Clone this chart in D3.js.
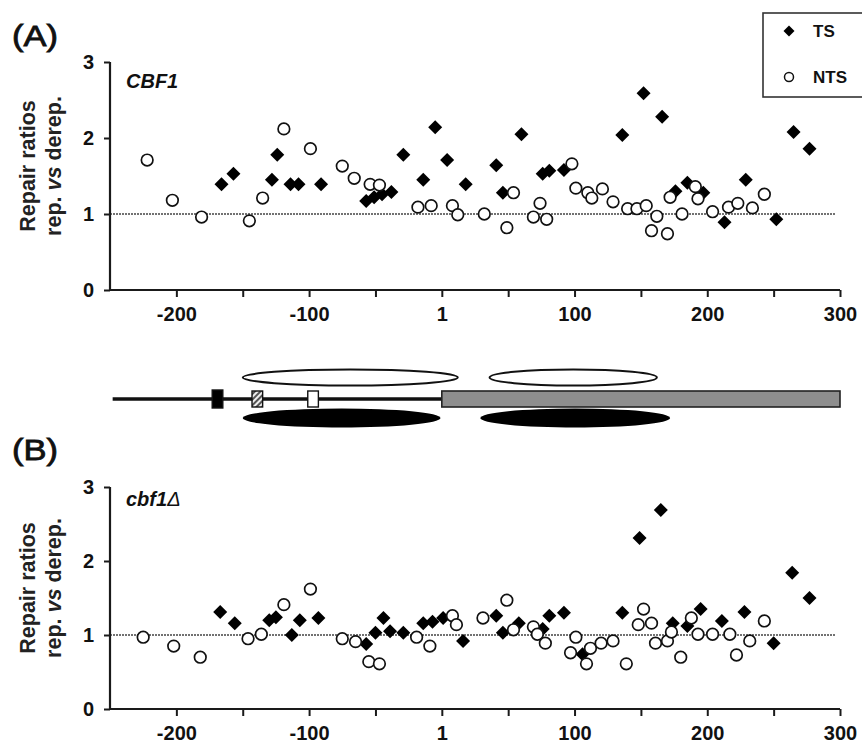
<!DOCTYPE html>
<html>
<head>
<meta charset="utf-8">
<script src="https://cdn.jsdelivr.net/npm/d3@7/dist/d3.min.js"></script>
<style>
  html, body { margin: 0; padding: 0; background: #fff; }
  svg { display: block; }
  text { font-family: Arial, 'Liberation Sans', sans-serif; }
</style>
</head>
<body>
<svg id="chart" width="862" height="746"></svg>
<script>
// gene position (bp) vs repair ratio
const tsA = [[-166,1.39],[-157,1.53],[-128,1.45],[-124,1.78],[-114,1.39],[-108,1.39],[-91,1.39],[-57,1.17],[-51,1.22],[-45,1.26],[-38,1.29],[-29,1.78],[-14,1.45],[-5,2.14],[4,1.71],[18,1.39],[41,1.64],[46,1.28],[60,2.05],[76,1.53],[81,1.57],[92,1.58],[136,2.04],[152,2.59],[166,2.28],[176,1.30],[185,1.41],[197,1.28],[213,0.89],[229,1.45],[252,0.93],[265,2.08],[277,1.86]]
const ntsA = [[-222,1.71],[-203,1.18],[-181,0.96],[-145,0.91],[-135,1.21],[-119,2.12],[-99,1.86],[-75,1.63],[-66,1.47],[-54,1.39],[-47,1.38],[-18,1.09],[-8,1.11],[8,1.11],[12,0.99],[32,1.00],[49,0.82],[54,1.28],[69,0.96],[74,1.14],[79,0.93],[98,1.66],[101,1.34],[110,1.28],[113,1.21],[121,1.33],[129,1.16],[140,1.07],[147,1.07],[154,1.11],[162,0.97],[158,0.78],[170,0.74],[172,1.22],[181,1.00],[191,1.36],[193,1.20],[204,1.03],[216,1.09],[223,1.14],[234,1.08],[243,1.26]]
const tsB = [[-167,1.31],[-156,1.16],[-130,1.20],[-125,1.24],[-113,1.00],[-107,1.20],[-93,1.23],[-57,0.88],[-50,1.03],[-44,1.23],[-39,1.05],[-29,1.03],[-14,1.16],[-7,1.18],[1,1.23],[16,0.92],[41,1.26],[46,1.03],[58,1.16],[76,1.08],[81,1.26],[92,1.30],[106,0.74],[136,1.30],[149,2.31],[165,2.69],[174,1.16],[185,1.12],[195,1.35],[211,1.19],[228,1.31],[250,0.89],[264,1.84],[277,1.50]]
const ntsB = [[-225,0.97],[-202,0.85],[-182,0.70],[-146,0.95],[-136,1.01],[-119,1.41],[-99,1.62],[-75,0.95],[-65,0.91],[-55,0.64],[-47,0.61],[-19,0.97],[-9,0.85],[8,1.26],[11,1.14],[31,1.23],[49,1.47],[54,1.07],[69,1.11],[72,1.01],[78,0.89],[101,0.97],[97,0.76],[109,0.61],[112,0.82],[120,0.89],[129,0.92],[139,0.61],[148,1.14],[152,1.35],[158,1.16],[161,0.89],[170,0.92],[173,1.04],[180,0.70],[188,1.23],[193,1.01],[204,1.01],[217,1.01],[222,0.73],[232,0.92],[243,1.19]]

const xTicks = [-200, -150, -100, -50, 0, 50, 100, 150, 200, 250, 300]
const xTickLabels = { '-200': '-200', '-100': '-100', '0': '1', '100': '100', '200': '200', '300': '300' }
const yTicks = [0, 1, 2, 3]

// promoter / gene schematic, in gene coordinates
const promoterLine = [-248, 0]
const codingRegion = [0, 300]
const boxes = [
  { from: -173, to: -165, kind: 'black' },
  { from: -143, to: -135, kind: 'hatch' },
  { from: -101, to: -93, kind: 'white' }
]
const openNucs = [[-150, 12], [36, 162]]
const filledNucs = [[-150, -1], [29, 172]]

const FONT = "Arial, 'Liberation Sans', sans-serif"
const AXIS_COLOR = '#1a1a1a'

const svg = d3.select('#chart')

const x = d3.scaleLinear().domain([-250, 300]).range([110, 840])

const panels = [
  { tag: '(A)', gene: 'CBF1', ts: tsA, nts: ntsA, top: 62, bottom: 290, tagY: 46, geneY: 88, delta: false },
  { tag: '(B)', gene: 'cbf1', ts: tsB, nts: ntsB, top: 487, bottom: 709, tagY: 460, geneY: 506, delta: true }
]

function drawPanel(p) {
  const y = d3.scaleLinear().domain([0, 3]).range([p.bottom, p.top])
  const g = svg.append('g')

  // reference line at ratio 1
  g.append('line')
    .attr('x1', x(-250)).attr('x2', x(297))
    .attr('y1', y(1)).attr('y2', y(1))
    .attr('stroke', '#444')
    .attr('stroke-width', 1.3)
    .attr('stroke-dasharray', '2,1')

  const xAxis = d3.axisBottom(x)
    .tickValues(xTicks)
    .tickSize(7)
    .tickPadding(10)
    .tickFormat(d => xTickLabels[String(d)] || '')
  const xg = g.append('g').attr('transform', `translate(0,${p.bottom})`).call(xAxis)

  const yAxis = d3.axisLeft(y).tickValues(yTicks).tickSize(6).tickPadding(10).tickFormat(d3.format('d'))
  const yg = g.append('g').attr('transform', `translate(${x(-250)},0)`).call(yAxis)

  ;[xg, yg].forEach(ax => {
    ax.select('.domain').attr('stroke', AXIS_COLOR).attr('stroke-width', 2.2)
    ax.selectAll('.tick line').attr('stroke', AXIS_COLOR).attr('stroke-width', 2)
    ax.selectAll('.tick text')
      .attr('fill', '#111')
      .style('font-family', FONT)
      .style('font-size', '20px')
      .style('font-weight', 700)
  })
  xg.select('.domain').attr('d', `M${x(-250)},0H${x(300)}`)
  yg.select('.domain').attr('d', `M0,${y(3)}V${y(0)}`)

  // y label, two rotated lines
  const midY = (p.top + p.bottom) / 2 - 10
  g.append('text')
    .attr('transform', `translate(35,${midY}) rotate(-90)`)
    .attr('text-anchor', 'middle')
    .attr('fill', '#222')
    .style('font-size', '21.5px')
    .style('font-weight', 700)
    .text('Repair ratios')
  const l2 = g.append('text')
    .attr('transform', `translate(61,${midY}) rotate(-90)`)
    .attr('text-anchor', 'middle')
    .attr('fill', '#222')
    .style('font-size', '21.5px')
    .style('font-weight', 700)
  l2.append('tspan').text('rep. ')
  l2.append('tspan').style('font-style', 'italic').text('vs')
  l2.append('tspan').text(' derep.')

  // panel tag
  g.append('text')
    .attr('x', 12).attr('y', p.tagY)
    .attr('fill', '#111')
    .attr('stroke', '#111')
    .attr('stroke-width', 0.8)
    .attr('textLength', 46)
    .attr('lengthAdjust', 'spacingAndGlyphs')
    .style('font-size', '29px')
    .text(p.tag)

  // strain name
  const gt = g.append('text')
    .attr('x', 126).attr('y', p.geneY)
    .attr('fill', '#111')
    .style('font-size', '20px')
    .style('font-weight', 700)
    .style('font-style', 'italic')
    .text(p.gene)
  if (p.delta) {
    gt.append('tspan').style('font-weight', 400).text('\u0394')
  }

  // TS: filled diamonds
  g.append('g').selectAll('path')
    .data(p.ts)
    .join('path')
    .attr('transform', d => `translate(${x(d[0])},${y(d[1])})`)
    .attr('d', 'M0,-7L7,0L0,7L-7,0Z')
    .attr('fill', '#000')

  // NTS: open circles
  g.append('g').selectAll('circle')
    .data(p.nts)
    .join('circle')
    .attr('cx', d => x(d[0]))
    .attr('cy', d => y(d[1]))
    .attr('r', 5.8)
    .attr('fill', '#fff')
    .attr('stroke', '#111')
    .attr('stroke-width', 1.7)
}

panels.forEach(drawPanel)

// legend (top right, clipped by the edge)
const lg = svg.append('g')
lg.append('rect')
  .attr('x', 763).attr('y', 13).attr('width', 110).attr('height', 84)
  .attr('fill', '#fff').attr('stroke', '#333').attr('stroke-width', 1.6)
lg.append('path')
  .attr('transform', 'translate(789,31)')
  .attr('d', 'M0,-5.5L5.5,0L0,5.5L-5.5,0Z')
  .attr('fill', '#000')
lg.append('circle')
  .attr('cx', 789).attr('cy', 77).attr('r', 4.5)
  .attr('fill', '#fff').attr('stroke', '#111').attr('stroke-width', 1.5)
lg.selectAll('text.lab')
  .data([['TS', 31], ['NTS', 77]])
  .join('text')
  .attr('class', 'lab')
  .attr('x', 813).attr('y', d => d[1] + 6)
  .attr('fill', '#111')
  .style('font-size', '17px')
  .style('font-weight', 700)
  .text(d => d[0])

// gene schematic between the panels
const LINE_Y = 399
const BOX_H = 16
const defs = svg.append('defs')
const pat = defs.append('pattern')
  .attr('id', 'hatch')
  .attr('patternUnits', 'userSpaceOnUse')
  .attr('width', 4).attr('height', 4)
  .attr('patternTransform', 'rotate(45)')
pat.append('rect').attr('width', 4).attr('height', 4).attr('fill', '#eee')
pat.append('rect').attr('width', 2).attr('height', 4).attr('fill', '#555')

const sg = svg.append('g')
sg.append('line')
  .attr('x1', x(promoterLine[0])).attr('x2', x(promoterLine[1]))
  .attr('y1', LINE_Y).attr('y2', LINE_Y)
  .attr('stroke', '#111').attr('stroke-width', 3.5)

sg.append('rect')
  .attr('x', x(codingRegion[0])).attr('y', LINE_Y - BOX_H / 2)
  .attr('width', x(codingRegion[1]) - x(codingRegion[0])).attr('height', BOX_H)
  .attr('fill', '#8e8e8e').attr('stroke', '#222').attr('stroke-width', 1.6)

sg.selectAll('rect.box')
  .data(boxes)
  .join('rect')
  .attr('class', 'box')
  .attr('x', d => x(d.from)).attr('width', d => x(d.to) - x(d.from))
  .attr('y', d => d.kind === 'black' ? LINE_Y - 9 : LINE_Y - BOX_H / 2)
  .attr('height', d => d.kind === 'black' ? 18 : BOX_H)
  .attr('fill', d => d.kind === 'black' ? '#000' : d.kind === 'hatch' ? 'url(#hatch)' : '#fff')
  .attr('stroke', '#111').attr('stroke-width', 1.4)

sg.selectAll('ellipse.open')
  .data(openNucs)
  .join('ellipse')
  .attr('class', 'open')
  .attr('cx', d => (x(d[0]) + x(d[1])) / 2)
  .attr('rx', d => (x(d[1]) - x(d[0])) / 2)
  .attr('cy', 377.5).attr('ry', 8)
  .attr('fill', '#fff').attr('stroke', '#111').attr('stroke-width', 2)

sg.selectAll('ellipse.filled')
  .data(filledNucs)
  .join('ellipse')
  .attr('class', 'filled')
  .attr('cx', d => (x(d[0]) + x(d[1])) / 2)
  .attr('rx', d => (x(d[1]) - x(d[0])) / 2)
  .attr('cy', 418).attr('ry', 9.5)
  .attr('fill', '#000')
</script>
</body>
</html>
